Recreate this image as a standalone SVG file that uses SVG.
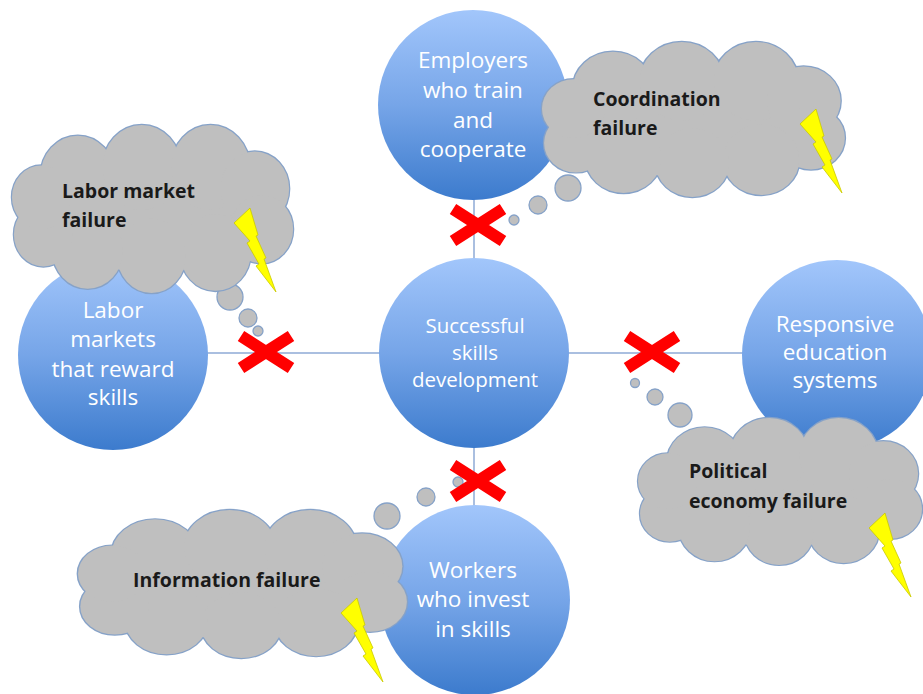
<svg xmlns="http://www.w3.org/2000/svg" xmlns:xlink="http://www.w3.org/1999/xlink" width="923" height="694" viewBox="0 0 923 694">
<style>
.conn{stroke:#8eaad6;stroke-width:1.5;fill:none}
.node{fill:url(#blue)}
.ntext{font-family:"Open Sans","Liberation Sans",sans-serif;fill:#ffffff;text-anchor:middle}
.outer{font-size:22.5px}
.center{font-size:20.5px}
.ctext{font-family:"Open Sans","Liberation Sans",sans-serif;font-weight:bold;font-size:19.5px;fill:#1a1a1a}
.cstroke{fill:#bfbfbf;stroke:#86a2c8;stroke-width:2.4}
.cfill{fill:#bfbfbf;stroke:none}
.bubble{fill:#bfbfbf;stroke:#86a2c8;stroke-width:1.3}
.bolt{fill:#ffff00;stroke:#c9c900;stroke-width:0.8;stroke-linejoin:miter}
.xm{stroke:#ff0000;stroke-width:12;fill:none}
</style>
<defs>
<linearGradient id="blue" x1="0" y1="0" x2="0" y2="1">
<stop offset="0" stop-color="#a2c6fb"/>
<stop offset="0.5" stop-color="#76a5e8"/>
<stop offset="1" stop-color="#3c7bcd"/>
</linearGradient>
<g id="cloud">
<ellipse cx="150" cy="85" rx="120" ry="55"/>
<circle cx="75" cy="50" r="38"/>
<circle cx="140" cy="42" r="40"/>
<circle cx="210" cy="42" r="40"/>
<circle cx="255" cy="62" r="35"/>
<circle cx="262" cy="100" r="32"/>
<circle cx="215" cy="122" r="36"/>
<circle cx="150" cy="125" r="35"/>
<circle cx="85" cy="120" r="36"/>
<circle cx="40" cy="105" r="30"/>
<circle cx="38" cy="70" r="30"/>
</g>
<polygon id="bolt" points="0,15 16,0 24,27 22,28 32,50 30,51 42,84 22,58 25,56 13,35 16,33"/>
<path id="xmark" d="M-25,-16 L25,16 M25,-16 L-25,16"/>
</defs>

<g id="connectors">
<line class="conn" x1="474" y1="198" x2="474" y2="260"/>
<line class="conn" x1="474" y1="446" x2="474" y2="507"/>
<line class="conn" x1="206" y1="353" x2="381" y2="353"/>
<line class="conn" x1="567" y1="353" x2="744" y2="353"/>
</g>

<g id="node-center">
<circle class="node" cx="474" cy="353" r="95"/>
<text class="ntext center" x="475" y="333">Successful</text>
<text class="ntext center" x="475" y="360">skills</text>
<text class="ntext center" x="475" y="387">development</text>
</g>
<g id="node-employers">
<circle class="node" cx="473" cy="105" r="95"/>
<text class="ntext outer" x="473" y="68">Employers</text>
<text class="ntext outer" x="473" y="98">who train</text>
<text class="ntext outer" x="473" y="128">and</text>
<text class="ntext outer" x="473" y="157">cooperate</text>
</g>
<g id="node-labor">
<circle class="node" cx="113" cy="355" r="95"/>
<text class="ntext outer" x="113" y="318">Labor</text>
<text class="ntext outer" x="113" y="347">markets</text>
<text class="ntext outer" x="113" y="377">that reward</text>
<text class="ntext outer" x="113" y="405">skills</text>
</g>
<g id="node-education">
<circle class="node" cx="837" cy="355" r="95"/>
<text class="ntext outer" x="835" y="332">Responsive</text>
<text class="ntext outer" x="835" y="360">education</text>
<text class="ntext outer" x="835" y="388">systems</text>
</g>
<g id="node-workers">
<circle class="node" cx="475" cy="600" r="95"/>
<text class="ntext outer" x="473" y="578">Workers</text>
<text class="ntext outer" x="473" y="607">who invest</text>
<text class="ntext outer" x="473" y="637">in skills</text>
</g>

<g id="bubbles">
<circle class="bubble" cx="568" cy="188" r="13"/>
<circle class="bubble" cx="538" cy="205" r="9"/>
<circle class="bubble" cx="514" cy="220" r="5"/>
<circle class="bubble" cx="230" cy="297" r="13"/>
<circle class="bubble" cx="248" cy="318" r="9"/>
<circle class="bubble" cx="258" cy="331" r="5"/>
<circle class="bubble" cx="635" cy="383" r="4.5"/>
<circle class="bubble" cx="655" cy="397" r="8"/>
<circle class="bubble" cx="680" cy="415" r="12"/>
<circle class="bubble" cx="458" cy="482" r="5"/>
<circle class="bubble" cx="426" cy="497" r="9"/>
<circle class="bubble" cx="387" cy="516" r="13"/>
</g>

<g id="cloud-coordination">
<use xlink:href="#cloud" class="cstroke" transform="translate(533.5,40) scale(1.059,0.981)"/>
<use xlink:href="#cloud" class="cfill" transform="translate(533.5,40) scale(1.059,0.981)"/>
<text class="ctext" x="593" y="106">Coordination</text>
<text class="ctext" x="593" y="135">failure</text>
<use xlink:href="#bolt" class="bolt" x="800" y="109"/>
</g>
<g id="cloud-labor">
<use xlink:href="#cloud" class="cstroke" transform="translate(4.1,122.9) scale(0.983,1.063)"/>
<use xlink:href="#cloud" class="cfill" transform="translate(4.1,122.9) scale(0.983,1.063)"/>
<text class="ctext" x="62" y="198">Labor market</text>
<text class="ctext" x="62" y="227">failure</text>
<use xlink:href="#bolt" class="bolt" x="234" y="208"/>
</g>
<g id="cloud-political">
<use xlink:href="#cloud" class="cstroke" transform="translate(630.1,416.1) scale(0.993,0.930)"/>
<use xlink:href="#cloud" class="cfill" transform="translate(630.1,416.1) scale(0.993,0.930)"/>
<text class="ctext" x="689" y="478">Political</text>
<text class="ctext" x="689" y="508">economy failure</text>
<use xlink:href="#bolt" class="bolt" x="869" y="513"/>
</g>
<g id="cloud-information">
<use xlink:href="#cloud" class="cstroke" transform="translate(68.8,508.1) scale(1.150,0.937)"/>
<use xlink:href="#cloud" class="cfill" transform="translate(68.8,508.1) scale(1.150,0.937)"/>
<text class="ctext" x="133" y="587">Information failure</text>
<use xlink:href="#bolt" class="bolt" x="341" y="598"/>
</g>

<g id="xmarks">
<use xlink:href="#xmark" class="xm" x="478" y="225"/>
<use xlink:href="#xmark" class="xm" x="266" y="352"/>
<use xlink:href="#xmark" class="xm" x="652" y="352"/>
<use xlink:href="#xmark" class="xm" x="478" y="481"/>
</g>
</svg>
